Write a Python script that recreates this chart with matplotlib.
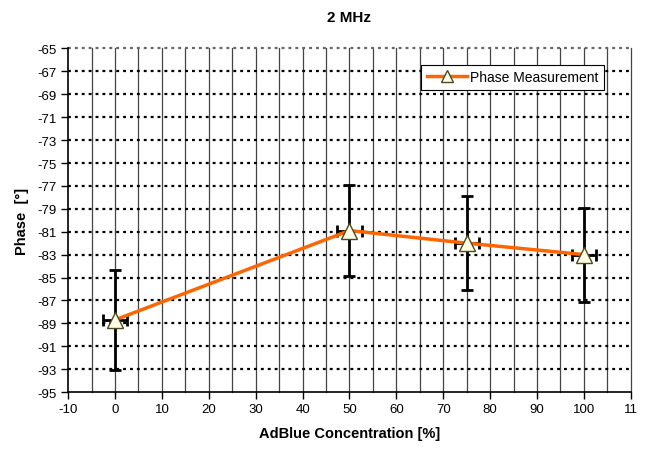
import matplotlib
matplotlib.use("Agg")
import matplotlib.pyplot as plt
import numpy as np

plt.rcParams['font.family'] = ['Liberation Sans', 'DejaVu Sans']
plt.rcParams['axes.unicode_minus'] = False

concentration = [0, 50, 75, 100]
phase = [-88.7, -80.9, -82.0, -83.0]
phase_err = [4.35, 4.0, 4.1, 4.1]
conc_err = [2.6, 2.6, 2.6, 2.6]
x_ticks = list(range(-10, 111, 10))
x_ticklabels = ["-10", "0", "10", "20", "30", "40", "50", "60", "70", "80", "90", "100", "11"]
y_ticks = list(range(-95, -64, 2))

fig = plt.figure(figsize=(6.49, 4.52), dpi=100)
ax = fig.add_axes([0.105, 0.1305, 0.867, 0.76])

ax.set_xlim(-10, 110)
ax.set_ylim(-95, -65)

# grid lines
for xv in range(-5, 111, 5):
    ax.axvline(xv, color='#444444', lw=0.9, zorder=1, clip_on=False)
for yv in y_ticks[1:-1]:
    ax.axhline(yv, color='black', lw=1.6, ls=(0, (1.3, 1.8)), zorder=1)
ax.axhline(-65, color='#666666', lw=1.6, ls=(0, (1.3, 1.8)), zorder=1, clip_on=False)

ax.errorbar(concentration, phase, yerr=phase_err, xerr=conc_err, fmt='none',
            ecolor='black', elinewidth=2, capsize=4, capthick=2, zorder=3)
ax.plot(concentration, phase, color='#FF6600', lw=2.5, marker='^', markersize=12,
        markerfacecolor='#FFFFE8', markeredgecolor='#4d4a1a', markeredgewidth=1.0,
        label='Phase Measurement', zorder=4)

ax.set_xticks(x_ticks)
ax.set_xticklabels(x_ticklabels)
ax.set_yticks(y_ticks)
ax.tick_params(axis='both', direction='out', length=5, width=1, labelsize=9.5, pad=3)

for s in ['top', 'right']:
    ax.spines[s].set_visible(False)
ax.spines['left'].set_linewidth(1.2)
ax.spines['bottom'].set_linewidth(1.2)

ax.set_title('2 MHz', fontsize=11, fontweight='bold', pad=20)
ax.set_xlabel('AdBlue Concentration [%]', fontsize=10.5, fontweight='bold', labelpad=8)
ax.set_ylabel('Phase  [°]', fontsize=10.5, fontweight='bold', labelpad=6)

leg = ax.legend(loc='upper right', bbox_to_anchor=(0.953, 0.953), fontsize=10,
                frameon=True, fancybox=False, edgecolor='black', framealpha=1,
                handlelength=2.9, handletextpad=0.25, borderpad=0.4, borderaxespad=0,
                markerscale=0.75)
leg.get_frame().set_linewidth(0.8)

fig.savefig('out.png', dpi=100)
